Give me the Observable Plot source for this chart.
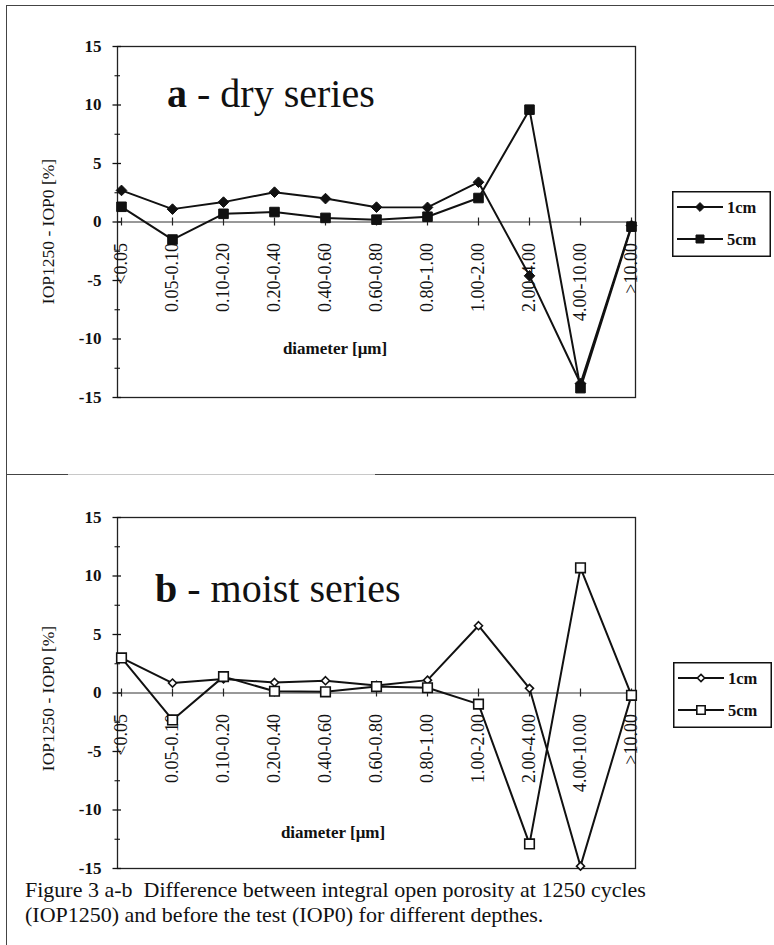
<!DOCTYPE html>
<html><head><meta charset="utf-8">
<script src="https://cdn.jsdelivr.net/npm/d3@7"></script>
<script src="https://cdn.jsdelivr.net/npm/@observablehq/plot@0.6"></script>
<style>
body{margin:0;background:#fff;}
#page{position:relative;width:774px;height:945px;overflow:hidden;font-family:"Liberation Serif","Times New Roman",serif;color:#111;background:#fff;}
.hl{position:absolute;height:0;border-top:1.5px solid #444;}
.vl{position:absolute;width:0;border-left:1.5px solid #444;}
.title{position:absolute;font-size:40px;line-height:1;white-space:nowrap;}
.xlab{position:absolute;font-size:17px;font-weight:bold;white-space:nowrap;transform:translate(-50%,-50%);}
.caption{position:absolute;left:25px;font-size:22px;line-height:20px;white-space:nowrap;}
svg.chart{position:absolute;left:0;}
svg.legend{position:absolute;}
</style></head><body><div id="page"></div>
<script>
const categories = ["<0.05","0.05-0.10","0.10-0.20","0.20-0.40","0.40-0.60","0.60-0.80","0.80-1.00","1.00-2.00","2.00-4.00","4.00-10.00",">10.00"];
const dry1cm   = [2.7, 1.1, 1.7, 2.55, 2.0, 1.27, 1.25, 3.4, -4.6, -13.8, -0.3];
const dry5cm   = [1.3, -1.5, 0.7, 0.85, 0.35, 0.2, 0.45, 2.05, 9.6, -14.2, -0.4];
const moist1cm = [3.0, 0.85, 1.2, 0.9, 1.05, 0.65, 1.1, 5.75, 0.4, -14.8, -0.2];
const moist5cm = [3.0, -2.3, 1.4, 0.15, 0.1, 0.55, 0.45, -0.95, -12.9, 10.7, -0.2];
const seriesNames = ["1cm", "5cm"];
const yMajor = [-15, -10, -5, 0, 5, 10, 15];
const yMinor = [-12.5, -7.5, -2.5, 2.5, 7.5, 12.5];
const yLabel = "IOP1250 - IOP0 [%]";
const xLabel = "diameter [\u03bcm]";
const captionLines = [
  "Figure 3 a-b\u00a0 Difference between integral open porosity at 1250 cycles",
  "(IOP1250) and before the test (IOP0) for different depthes."
];

const page = document.getElementById("page");

function chart(v1, v2, open, labelDy) {
  const rows1 = categories.map((c, i) => ({c, v: v1[i]}));
  const rows2 = categories.map((c, i) => ({c, v: v2[i]}));
  const ink = "#111";
  const svg = Plot.plot({
    width: 774, height: 420,
    marginTop: 46, marginBottom: 23, marginLeft: 117, marginRight: 139,
    x: {type: "point", domain: categories, padding: 0, axis: null},
    y: {domain: [-15, 15], axis: null, label: null},
    style: {fontFamily: "'Liberation Serif', 'Times New Roman', serif", color: ink, background: "transparent", overflow: "visible"},
    marks: [
      Plot.frame({stroke: "#222", strokeWidth: 1.3}),
      Plot.ruleY([0], {stroke: "#333", strokeWidth: 1}),
      Plot.axisY({ticks: yMajor, tickSize: 8.5, dx: 4, tickFormat: () => "", strokeWidth: 1.3, label: null}),
      Plot.axisY({ticks: yMinor, tickSize: 5.5, dx: 3, tickFormat: () => "", strokeWidth: 1.1, label: null}),
      Plot.axisY({ticks: yMajor, tickSize: 0, tickPadding: 16, tickFormat: d => String(d), fontSize: 17, fontWeight: "bold", label: null}),
      Plot.ruleX(categories, {x: d => d, y1: 0, y2: 0, insetTop: -4, insetBottom: -4, stroke: "#222", strokeWidth: 1.2}),
      Plot.text(categories, {x: d => d, y: 0, text: d => d, rotate: -90, textAnchor: "end", dy: 21, fontSize: 18, fill: ink}),
      Plot.text([yLabel], {frameAnchor: "left", textAnchor: "middle", rotate: -90, dx: -69, dy: labelDy, fontSize: 17.5, fill: ink}),
      Plot.line(rows1, {x: "c", y: "v", stroke: ink, strokeWidth: 2}),
      Plot.line(rows2, {x: "c", y: "v", stroke: ink, strokeWidth: 2}),
      Plot.dot(rows1, {x: "c", y: "v", symbol: "diamond2", r: open ? 3.6 : 4.8, fill: open ? "white" : ink, stroke: ink, strokeWidth: open ? 1.6 : 1}),
      Plot.dot(rows2, {x: "c", y: "v", symbol: "square", r: 5.4, fill: open ? "white" : ink, stroke: ink, strokeWidth: open ? 1.6 : 1})
    ]
  });
  svg.classList.add("chart");
  return svg;
}

function legend(left, top, open) {
  const s = d3.create("svg").attr("class", "legend").attr("width", 99).attr("height", 66)
    .style("left", left + "px").style("top", top + "px");
  s.append("rect").attr("x", 0.75).attr("y", 0.75).attr("width", 97.5).attr("height", 64.5)
    .attr("fill", "white").attr("stroke", "#111").attr("stroke-width", 1.5);
  const rowsY = [16, 48];
  seriesNames.forEach((name, i) => {
    const y = rowsY[i];
    s.append("line").attr("x1", 5).attr("x2", 51).attr("y1", y).attr("y2", y).attr("stroke", "#111").attr("stroke-width", 2);
    const sym = i === 0 ? d3.symbolDiamond2 : d3.symbolSquare;
    const size = i === 0 ? (open ? 34 : 50) : (open ? 70 : 64);
    s.append("path").attr("d", d3.symbol(sym, size)()).attr("transform", `translate(28,${y})`)
      .attr("fill", open ? "white" : "#111").attr("stroke", "#111").attr("stroke-width", open ? 1.6 : 1);
    s.append("text").attr("x", 55).attr("y", y).attr("dy", "0.35em").attr("font-size", 16.5).attr("font-weight", "bold")
      .attr("font-family", "'Liberation Serif', serif").attr("fill", "#111").text(name);
  });
  page.appendChild(s.node());
}

function addDiv(cls, styles, html) {
  const d = document.createElement("div");
  d.className = cls;
  Object.assign(d.style, styles);
  d.textContent = html;
  page.appendChild(d);
  return d;
}
function addHtml(cls, styles, html) {
  const d = addDiv(cls, styles, "");
  d.innerHTML = html;
  return d;
}

// page frame
addDiv("hl", {left: "6px", top: "5px", width: "768px"}, "");
addDiv("vl", {left: "6px", top: "5px", height: "940px"}, "");
addDiv("hl", {left: "6px", top: "474px", width: "62px"}, "");
addDiv("hl", {left: "68px", top: "474px", width: "307px", borderTopColor: "#c8c8c8"}, "");
addDiv("hl", {left: "375px", top: "474px", width: "399px"}, "");

// charts
const a = chart(dry1cm, dry5cm, false, 9.5);
a.style.top = "0px";
page.appendChild(a);
const b = chart(moist1cm, moist5cm, true, 5.5);
b.style.top = "471px";
page.appendChild(b);

// titles
addHtml("title", {left: "167px", top: "74px"}, "<b>a</b> - dry series");
addHtml("title", {left: "155px", top: "569px"}, "<b>b</b> - moist series");
addDiv("xlab", {left: "335px", top: "349px"}, xLabel);
addDiv("xlab", {left: "333px", top: "833px"}, xLabel);

// legends
legend(672, 191, false);
legend(673, 662, true);

// caption
addDiv("caption", {top: "880px"}, captionLines[0]);
addDiv("caption", {top: "905px"}, captionLines[1]);
</script>
</body></html>
